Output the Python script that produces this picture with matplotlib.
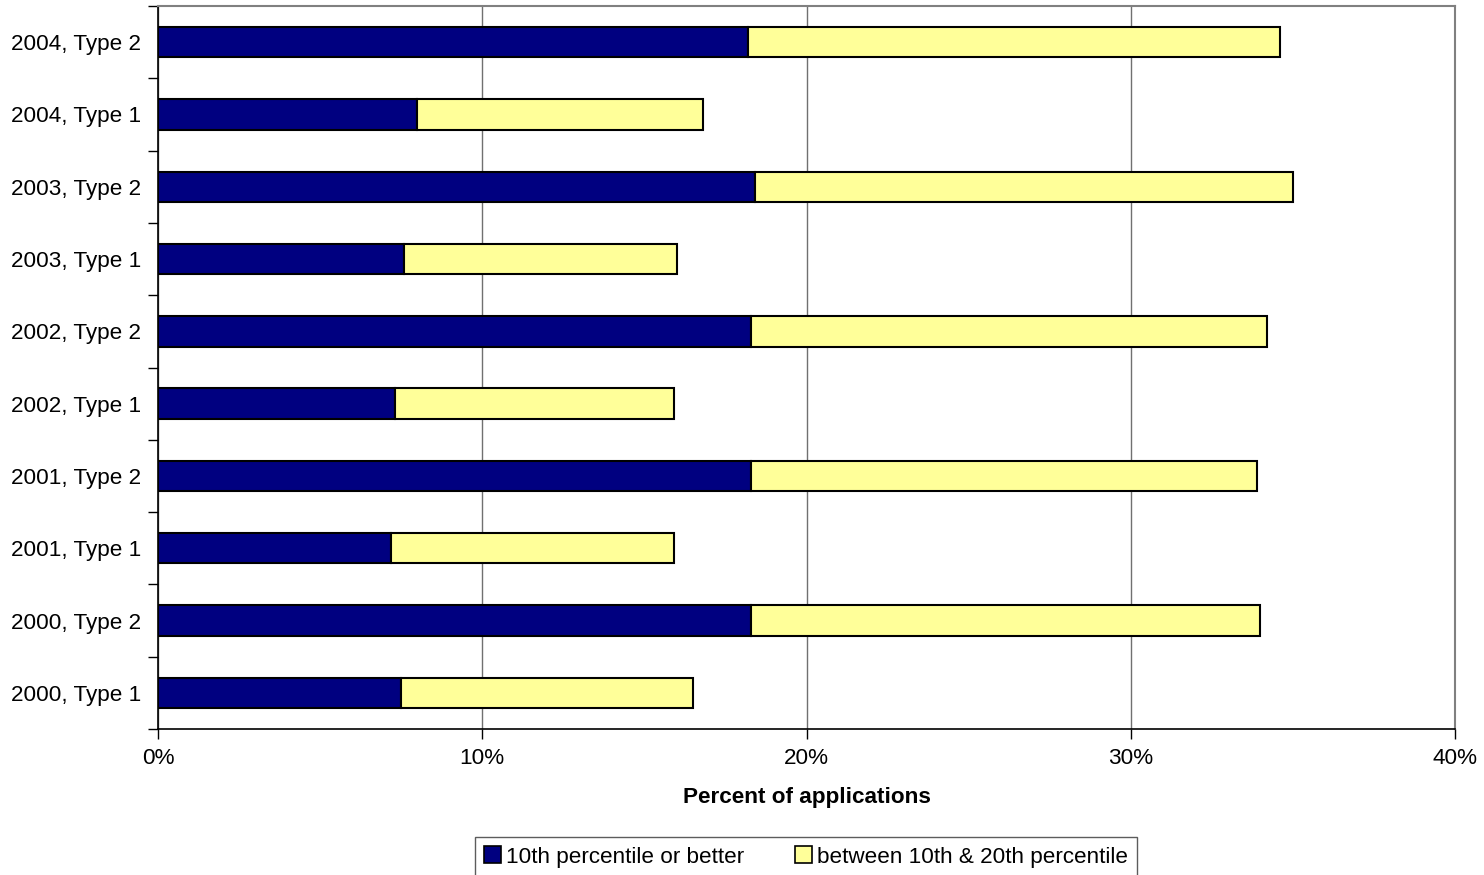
import matplotlib
matplotlib.use('Agg')
import matplotlib.pyplot as plt
import numpy as np
from matplotlib.ticker import FuncFormatter, FixedLocator

plt.rcParams['font.family'] = ['Liberation Sans', 'DejaVu Sans']

# categories bottom to top
categories = ['2000, Type 1', '2000, Type 2', '2001, Type 1', '2001, Type 2',
              '2002, Type 1', '2002, Type 2', '2003, Type 1', '2003, Type 2',
              '2004, Type 1', '2004, Type 2']
top10 = [7.5, 18.3, 7.2, 18.3, 7.3, 18.3, 7.6, 18.4, 8.0, 18.2]
between_10_20 = [9.0, 15.7, 8.7, 15.6, 8.6, 15.9, 8.4, 16.6, 8.8, 16.4]
series_names = ['10th percentile or better', 'between 10th & 20th percentile']
x_ticks = [0, 10, 20, 30, 40]

fs = 16.2
fig = plt.figure(figsize=(14.84, 8.75), dpi=100)
ax = fig.add_axes([158 / 1484, 1 - 729 / 875, (1455 - 158) / 1484, (729 - 6) / 875])

y = np.arange(len(categories))
h = 0.42
ax.barh(y, top10, height=h, color='#000080', edgecolor='black', linewidth=1.5,
        label=series_names[0], zorder=3)
ax.barh(y, between_10_20, left=top10, height=h, color='#FFFF99', edgecolor='black',
        linewidth=1.5, label=series_names[1], zorder=3)

ax.set_xlim(0, 40)
ax.set_ylim(-0.5, len(categories) - 0.5)
ax.set_xticks(x_ticks)
ax.xaxis.set_major_formatter(FuncFormatter(lambda v, p: f'{int(v)}%'))
ax.grid(axis='x', color='#707070', linewidth=1, zorder=0)

ax.set_yticks(y)
ax.set_yticklabels(categories)
ax.yaxis.set_minor_locator(FixedLocator(np.arange(-0.5, len(categories), 1)))
ax.tick_params(axis='y', which='major', length=0, pad=12, labelsize=fs)
ax.tick_params(axis='y', which='minor', length=7, width=1, color='black')
ax.tick_params(axis='x', length=7, width=1, pad=7, labelsize=fs)

for s in ['top', 'right']:
    ax.spines[s].set_color('#808080')
    ax.spines[s].set_linewidth(1.5)
for s in ['left', 'bottom']:
    ax.spines[s].set_color('black')
    ax.spines[s].set_linewidth(1.2)

ax.set_xlabel('Percent of applications', fontsize=fs, fontweight='bold', labelpad=13)

leg = fig.legend(loc='center', bbox_to_anchor=(806 / 1484, 1 - 857 / 875), ncol=2,
                 fontsize=fs, frameon=True, fancybox=False, shadow=False,
                 handlelength=0.75, handleheight=0.75, handletextpad=0.2,
                 columnspacing=2.3, borderpad=0.4, borderaxespad=0)
leg.get_frame().set_edgecolor('#333333')
leg.get_frame().set_linewidth(1)
leg._legend_box.sep = 10
for p in leg.get_patches():
    p.set_linewidth(1.2)

fig.savefig('out.png', dpi=100)
